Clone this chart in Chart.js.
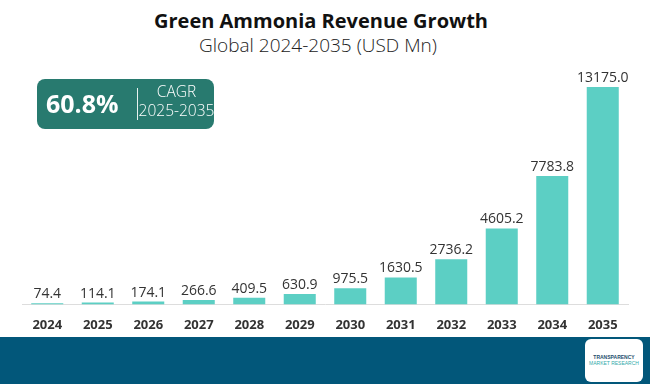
<!DOCTYPE html>
<html>
<head>
<meta charset="utf-8">
<script src="https://cdn.jsdelivr.net/npm/chart.js@4/dist/chart.umd.min.js"></script>
<style>
  body { margin: 0; width: 650px; height: 384px; background: #fff; position: relative; overflow: hidden; font-family: "Open Sans", sans-serif; }
  .title { position: absolute; top: 7px; left: 0; width: 642px; text-align: center; font: 700 20px "Open Sans", sans-serif; color: #111; }
  .subtitle { position: absolute; top: 32px; left: 0; width: 636px; text-align: center; font: 300 19px "Open Sans", sans-serif; color: #222; }
  .cagr { position: absolute; left: 37px; top: 79px; width: 177px; height: 50px; background: #287a6f; border-radius: 8px; color: #fff; }
  .cagr .big { position: absolute; left: 9px; top: 7px; font: 700 25px "Open Sans", sans-serif; }
  .cagr .sep { position: absolute; left: 100px; top: 9px; width: 1px; height: 32px; background: #e8f2f0; }
  .cagr .lbl { position: absolute; left: 101px; top: 3px; width: 77px; text-align: center; font: 300 15.5px "Open Sans", sans-serif; line-height: 19px; white-space: nowrap; }
  .footer { position: absolute; left: 0; top: 337px; width: 650px; height: 47px; background: #02577a; }
  .logo { position: absolute; left: 585px; top: 339px; width: 58px; height: 43px; background: #fff; border-radius: 6px; text-align: center; font: 700 5px "Liberation Sans", sans-serif; color: #1f4f6e; }
  #wrap { position: absolute; left: 0; top: 0; width: 650px; height: 338px; }
</style>
</head>
<body>
<div class="title">Green Ammonia Revenue Growth</div>
<div class="subtitle">Global 2024-2035 (USD Mn)</div>
<div id="wrap"><canvas id="bar-chart"></canvas></div>
<div class="cagr">
  <div class="big">60.8%</div>
  <div class="sep"></div>
  <div class="lbl">CAGR<br>2025-2035</div>
</div>
<div class="footer"></div>
<div class="logo"><div style="margin-top:15px">TRANSPARENCY</div><div style="color:#3aa;font-weight:400">MARKET RESEARCH</div></div>
<script>
const years = ["2024", "2025", "2026", "2027", "2028", "2029", "2030", "2031", "2032", "2033", "2034", "2035"];
const revenue = [74.4, 114.1, 174.1, 266.6, 409.5, 630.9, 975.5, 1630.5, 2736.2, 4605.2, 7783.8, 13175.0];

// value labels above each bar
const valueLabels = {
  id: "valueLabels",
  afterDatasetsDraw(chart) {
    const ctx = chart.ctx;
    const meta = chart.getDatasetMeta(0);
    ctx.save();
    ctx.font = "14px 'Open Sans', sans-serif";
    ctx.fillStyle = "#333";
    ctx.textAlign = "center";
    ctx.textBaseline = "bottom";
    meta.data.forEach((bar, i) => {
      ctx.fillText(revenue[i].toFixed(1), bar.x, bar.y - 2);
    });
    ctx.restore();
  },
};

new Chart(document.getElementById("bar-chart"), {
  type: "bar",
  data: {
    labels: years,
    datasets: [
      {
        data: revenue,
        backgroundColor: "#5ccfc4",
        barPercentage: 0.634,
        categoryPercentage: 1,
      },
    ],
  },
  options: {
    responsive: true,
    maintainAspectRatio: false,
    animation: false,
    layout: { padding: { top: 60, left: 22, right: 22, bottom: 0 } },
    plugins: {
      legend: { display: false },
      title: { display: false },
      tooltip: { enabled: false },
    },
    scales: {
      x: {
        grid: { display: false },
        border: { display: true, color: "#dddddd", width: 1 },
        ticks: { color: "#333", padding: 5, font: { family: "Open Sans", size: 13, weight: "bold" } },
      },
      y: {
        display: false,
        min: 0,
        max: 14814,
      },
    },
  },
  plugins: [valueLabels],
});
</script>
</body>
</html>
